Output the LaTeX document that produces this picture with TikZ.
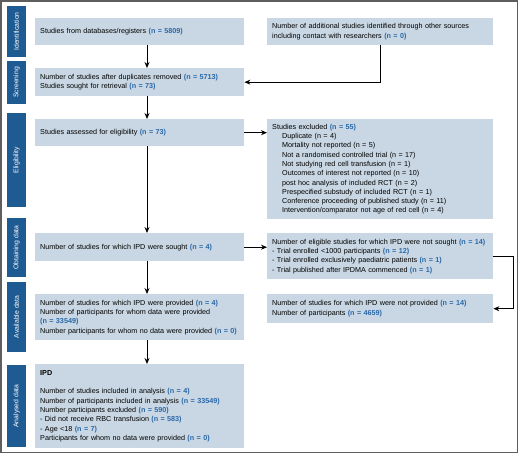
\documentclass[tikz,border=0pt]{standalone}
\usepackage{fontspec}
\setmainfont{Liberation Sans}
\usetikzlibrary{arrows.meta,calc}
\definecolor{tabblue}{HTML}{1F5B93}
\definecolor{boxfill}{HTML}{C8D7E3}
\definecolor{nblue}{HTML}{2B68A8}
\definecolor{framegray}{HTML}{5E5E5E}
\newcommand{\nv}[1]{\textcolor{nblue}{\textbf{#1}}}
\begin{document}
\begin{tikzpicture}[x=1pt,y=-1pt,
  box/.style={fill=boxfill, anchor=north west, inner xsep=5pt, inner ysep=0pt,
    align=left, font=\fontsize{7.2}{9.3}\selectfont},
  mainbox/.style={box, text width=199pt, minimum width=209pt},
  sidebox/.style={box, text width=216pt, minimum width=226pt},
  tab/.style={fill=tabblue, text=white, rotate=90, inner sep=0pt,
    font=\fontsize{6.8}{8}\selectfont},
  arr/.style={-{Stealth[length=6pt,width=5pt]}, line width=0.8pt, black},
  ln/.style={line width=0.8pt, black}]
\useasboundingbox (0,0) rectangle (520,455);
\draw[framegray, line width=1.2pt] (1,1) rectangle (517.5,452.5);

% stage tabs
\node[tab, minimum width=51pt, minimum height=19pt] (tid) at (16.5,31.5) {Identification};
\node[tab, minimum width=43pt, minimum height=19pt] (tsc) at (16.5,82.5) {Screening};
\node[tab, minimum width=94pt, minimum height=19pt] (tel) at (16.5,160) {Eligibility};
\node[tab, minimum width=59pt, minimum height=19pt] (tob) at (16.5,247.5) {Obtaining data};
\node[tab, minimum width=70pt, minimum height=19pt] (tav) at (16.5,317) {Available data};
\node[tab, minimum width=82pt, minimum height=19pt] (tan) at (16.5,406) {Analysed data};

% main column
\node[mainbox, minimum height=27pt] (b1) at (35,18) {Studies from databases/registers \nv{(n = 5809)}};
\node[mainbox, minimum height=28pt] (b2) at (35,68) {Number of studies after duplicates removed \nv{(n = 5713)}\\Studies sought for retrieval \nv{(n = 73)}};
\node[mainbox, minimum height=27pt] (b3) at (35,119) {Studies assessed for eligibility \nv{(n = 73)}};
\node[mainbox, minimum height=28pt] (b4) at (35,233) {Number of studies for which IPD were sought \nv{(n = 4)}};
\node[mainbox, minimum height=46pt] (b5) at (35,294) {Number of studies for which IPD were provided \nv{(n = 4)}\\Number of participants for whom data were provided\\\nv{(n = 33549)}\\Number participants for whom no data were provided \nv{(n = 0)}};
\node[mainbox, minimum height=84pt] (b6) at (35,364) {\textbf{IPD}\\[9.3pt]Number of studies included in analysis \nv{(n = 4)}\\Number of participants included in analysis \nv{(n = 33549)}\\Number participants excluded \nv{(n = 590)}\\- Did not receive RBC transfusion \nv{(n = 583)}\\- Age {<}18 \nv{(n = 7)}\\Participants for whom no data were provided \nv{(n = 0)}};

% side column
\node[sidebox, minimum height=27pt] (r1) at (267,18) {Number of additional studies identified through other sources\\including contact with researchers \nv{(n = 0)}};
\node[sidebox, minimum height=100pt] (r2) at (267,119) {Studies excluded \nv{(n = 55)}\\
\hspace*{10pt}Duplicate (n = 4)\\
\hspace*{10pt}Mortality not reported (n = 5)\\
\hspace*{10pt}Not a randomised controlled trial (n = 17)\\
\hspace*{10pt}Not studying red cell transfusion (n = 1)\\
\hspace*{10pt}Outcomes of interest not reported (n = 10)\\
\hspace*{10pt}post hoc analysis of included RCT (n = 2)\\
\hspace*{10pt}Prespecified substudy of included RCT (n = 1)\\
\hspace*{10pt}Conference proceeding of published study (n = 11)\\
\hspace*{10pt}Intervention/comparator not age of red cell (n = 4)};
\node[sidebox, minimum height=46pt] (r3) at (267,233) {Number of eligible studies for which IPD were not sought \nv{(n = 14)}\\- Trial enrolled {<}1000 participants \nv{(n = 12)}\\- Trial enrolled exclusively paediatric patients \nv{(n = 1)}\\- Trial published after IPDMA commenced \nv{(n = 1)}};
\node[sidebox, minimum height=29pt] (r4) at (267,294) {Number of studies for which IPD were not provided \nv{(n = 14)}\\Number of participants \nv{(n = 4659)}};

% connectors
\coordinate (ax) at (147,0);
\coordinate (rx) at (380,0);
\coordinate (ex) at (513,0);
\draw[arr] (b1.south -| ax) -- (b2.north -| ax);
\draw[arr] (b2.south -| ax) -- (b3.north -| ax);
\draw[arr] (b3.south -| ax) -- (b4.north -| ax);
\draw[arr] (b4.south -| ax) -- (b5.north -| ax);
\draw[arr] (b5.south -| ax) -- (b6.north -| ax);
\draw[arr] (r1.south -| rx) |- (b2.east);
\draw[arr] (b3.east) -- (r2.west |- b3.east);
\draw[arr] (b4.east) -- (r3.west |- b4.east);
\draw[arr] (r3.east) -- (r3.east -| ex) |- (r4.east);
\end{tikzpicture}
\end{document}
